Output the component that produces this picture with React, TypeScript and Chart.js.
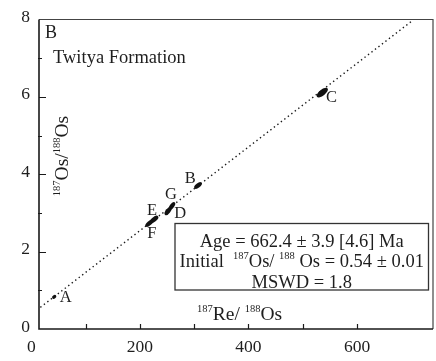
import React, { useEffect, useRef } from 'react';
import { Chart, registerables } from 'chart.js';

Chart.register(...registerables);

// ---- data ----
const sampleLabels = ['A', 'B', 'C', 'D', 'E', 'F', 'G'];
const reOs = [42, 307, 536, 252, 226, 217, 259]; // 187Re/188Os
const osOs = [0.83, 3.71, 6.11, 3.05, 2.83, 2.73, 3.18]; // 187Os/188Os
const isochronX = [16.5, 702];
const isochronY = [0.56, 7.97];
const xTickLabels = [0, 200, 400, 600];
const yTickLabels = [0, 2, 4, 6, 8];
const xMinorTicks = [100, 200, 300, 400, 500, 600];
const yMajorTicks = [2, 4, 6];
const yMinorTicks = [1, 3, 5, 7];

// ---- styles (px) ----
const ellipseStyle: [number, number, number][] = [
  [2.3, 1.7, -35],
  [4.5, 2.2, -38],
  [6.8, 3.0, -38],
  [5.0, 2.3, -52],
  [5.2, 2.4, -40],
  [4.6, 2.2, -40],
  [4.6, 2.2, -55],
];
const labelOffset: [number, number][] = [
  [11.5, 0.7],
  [-7.7, -6.7],
  [9.3, 5],
  [12, 3],
  [-2, -9],
  [2.7, 10.7],
  [-1, -11],
];

const FAMILY = '"Liberation Serif", "Times New Roman", serif';
const INK = '#1e1e1e';

type Seg = { t: string; sup?: boolean };

function drawRich(
  ctx: CanvasRenderingContext2D,
  segs: Seg[],
  x: number,
  y: number,
  align: 'left' | 'center',
  mainSize: number,
  supSize: number,
  rise: number
) {
  ctx.textBaseline = 'alphabetic';
  ctx.textAlign = 'left';
  const mf = `${mainSize}px ${FAMILY}`;
  const sf = `${supSize}px ${FAMILY}`;
  const widths = segs.map((s) => {
    ctx.font = s.sup ? sf : mf;
    return ctx.measureText(s.t).width;
  });
  const total = widths.reduce((a, b) => a + b, 0);
  let cx = align === 'center' ? x - total / 2 : x;
  segs.forEach((s, i) => {
    ctx.font = s.sup ? sf : mf;
    ctx.fillText(s.t, cx, s.sup ? y - rise : y);
    cx += widths[i];
  });
}

const decorPlugin = {
  id: 'decor',
  afterDatasetsDraw(chart: any) {
    const { ctx, chartArea: ca, scales } = chart;
    const xs = scales.x;
    const ys = scales.y;
    ctx.save();

    // error ellipses + labels
    const meta = chart.getDatasetMeta(1);
    meta.data.forEach((el: any, i: number) => {
      const [a, b, ang] = ellipseStyle[i];
      ctx.beginPath();
      ctx.ellipse(el.x, el.y, a, b, (ang * Math.PI) / 180, 0, Math.PI * 2);
      ctx.fillStyle = '#111';
      ctx.fill();
    });
    meta.data.forEach((el: any, i: number) => {
      const [dx, dy] = labelOffset[i];
      ctx.font = `16.5px ${FAMILY}`;
      ctx.fillStyle = INK;
      ctx.textAlign = 'center';
      ctx.textBaseline = 'middle';
      ctx.fillText(sampleLabels[i], el.x + dx, el.y + dy);
    });

    // frame
    ctx.strokeStyle = '#444';
    ctx.lineWidth = 1.2;
    ctx.beginPath();
    ctx.moveTo(ca.left, ca.top);
    ctx.lineTo(ca.right, ca.top);
    ctx.lineTo(ca.right, ca.bottom);
    ctx.stroke();
    ctx.strokeStyle = '#1a1a1a';
    ctx.lineWidth = 1.6;
    ctx.beginPath();
    ctx.moveTo(ca.left, ca.top);
    ctx.lineTo(ca.left, ca.bottom);
    ctx.lineTo(ca.right, ca.bottom);
    ctx.stroke();

    // inward ticks
    ctx.lineWidth = 1.2;
    ctx.beginPath();
    xMinorTicks.forEach((v) => {
      const px = Math.round(xs.getPixelForValue(v)) + 0.5;
      ctx.moveTo(px, ca.bottom);
      ctx.lineTo(px, ca.bottom - 5);
    });
    yMajorTicks.forEach((v) => {
      const py = Math.round(ys.getPixelForValue(v)) + 0.5;
      ctx.moveTo(ca.left, py);
      ctx.lineTo(ca.left + 7, py);
    });
    yMinorTicks.forEach((v) => {
      const py = Math.round(ys.getPixelForValue(v)) + 0.5;
      ctx.moveTo(ca.left - 1, py);
      ctx.lineTo(ca.left + 3, py);
    });
    ctx.stroke();

    ctx.fillStyle = INK;
    // panel letter & title
    ctx.font = `18px ${FAMILY}`;
    ctx.textAlign = 'left';
    ctx.textBaseline = 'alphabetic';
    ctx.fillText('B', ca.left + 6, ca.top + 18);
    ctx.font = `18.5px ${FAMILY}`;
    ctx.fillText('Twitya Formation', ca.left + 14, ca.top + 43);

    // x axis title
    drawRich(
      ctx,
      [{ t: '187', sup: true }, { t: 'Re/ ' }, { t: '188', sup: true }, { t: 'Os' }],
      197,
      ca.bottom - 9,
      'left',
      19.5,
      10.5,
      8
    );

    // y axis title (rotated)
    ctx.save();
    ctx.translate(ca.left + 29, 156);
    ctx.rotate(-Math.PI / 2);
    drawRich(
      ctx,
      [{ t: '187', sup: true }, { t: 'Os/' }, { t: '188', sup: true }, { t: 'Os' }],
      0,
      0,
      'center',
      19.5,
      10.5,
      8
    );
    ctx.restore();

    // result box
    const bx = 175;
    const by = 223.5;
    const bw = 253.5;
    const bh = 66.5;
    ctx.fillStyle = '#fff';
    ctx.fillRect(bx, by, bw, bh);
    ctx.strokeStyle = '#333';
    ctx.lineWidth = 1.3;
    ctx.strokeRect(bx, by, bw, bh);
    ctx.fillStyle = INK;
    const cx = bx + bw / 2;
    drawRich(ctx, [{ t: 'Age = 662.4 ± 3.9 [4.6] Ma' }], cx, 246.5, 'center', 18.5, 10.5, 8);
    drawRich(
      ctx,
      [
        { t: 'Initial  ' },
        { t: '187', sup: true },
        { t: 'Os/ ' },
        { t: '188', sup: true },
        { t: ' Os = 0.54 ± 0.01' },
      ],
      cx,
      267.3,
      'center',
      18.5,
      10.5,
      8
    );
    drawRich(ctx, [{ t: 'MSWD = 1.8' }], cx, 288, 'center', 18.5, 10.5, 8);

    ctx.restore();
  },
};

export default function App() {
  const ref = useRef<HTMLCanvasElement | null>(null);
  useEffect(() => {
    if (!ref.current) return;
    const chart = new Chart(ref.current, {
      type: 'scatter',
      data: {
        datasets: [
          {
            label: 'isochron',
            data: isochronX.map((x, i) => ({ x, y: isochronY[i] })),
            showLine: true,
            borderColor: '#1a1a1a',
            borderWidth: 1.4,
            borderDash: [1.4, 3.0],
            pointRadius: 0,
            fill: false,
          },
          {
            label: 'samples',
            data: reOs.map((x, i) => ({ x, y: osOs[i] })),
            pointRadius: 0,
            showLine: false,
          },
        ],
      },
      options: {
        animation: false,
        responsive: false,
        devicePixelRatio: 1,
        layout: { padding: { top: 12, right: 3, left: 0, bottom: 0 } },
        plugins: { legend: { display: false }, tooltip: { enabled: false } },
        scales: {
          x: {
            type: 'linear',
            min: 14,
            max: 740,
            grid: { display: false, drawTicks: false },
            border: { display: false },
            afterBuildTicks: (s: any) => {
              s.ticks = xTickLabels.map((v) => ({ value: v }));
            },
            afterFit: (s: any) => {
              s.height = 32;
            },
            ticks: {
              autoSkip: false,
              maxRotation: 0,
              padding: 8,
              color: INK,
              font: { family: FAMILY, size: 17.5 },
            },
          },
          y: {
            type: 'linear',
            min: 0,
            max: 8,
            grid: { display: false, drawTicks: false },
            border: { display: false },
            afterBuildTicks: (s: any) => {
              s.ticks = yTickLabels.map((v) => ({ value: v }));
            },
            afterFit: (s: any) => {
              s.width = 39;
            },
            ticks: {
              autoSkip: false,
              padding: 9,
              labelOffset: -2,
              color: INK,
              font: { family: FAMILY, size: 17.5 },
            },
          },
        },
      },
      plugins: [decorPlugin],
    });
    return () => chart.destroy();
  }, []);
  return (
    <div style={{ position: 'absolute', left: 0, top: 0, width: 436, height: 361 }}>
      <canvas ref={ref} width={436} height={361} />
    </div>
  );
}
